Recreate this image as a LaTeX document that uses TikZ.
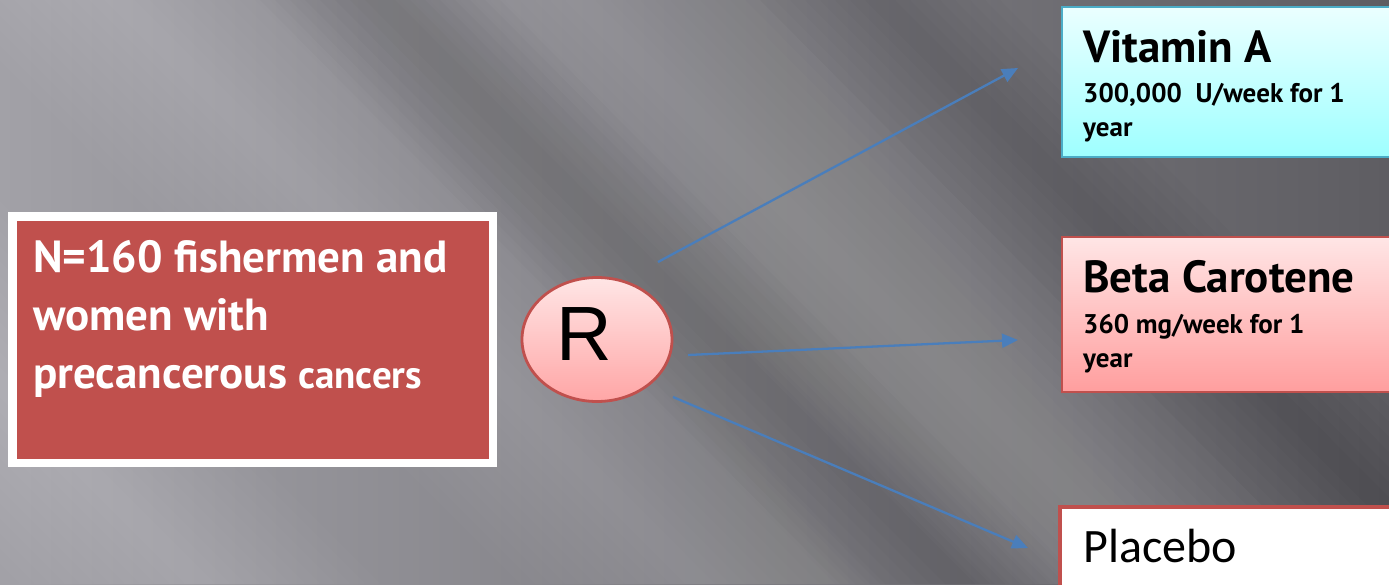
\documentclass[tikz,border=0pt]{standalone}
\usepackage{fontspec}
\setmainfont{PT Sans}
\newfontfamily\placebofont{Carlito}
\newfontfamily\rfont{Liberation Sans}
\usetikzlibrary{arrows.meta}
\definecolor{redbox}{HTML}{C0504D}
\definecolor{arrowblue}{HTML}{4A7EBB}
\definecolor{cyanborder}{HTML}{4BACC6}
\definecolor{bgleft}{HTML}{A2A1A7}
\definecolor{bgright}{HTML}{5E5D62}
\tikzset{
  conn/.style={draw=arrowblue, line width=2.3pt, -{Triangle[length=16pt,width=14pt]}},
  titletxt/.style={font=\bfseries\fontsize{45}{50}\selectfont, inner sep=0pt, anchor=base west},
  subtxt/.style={font=\bfseries\fontsize{27}{33.5}\selectfont, inner sep=0pt, anchor=base west, align=left},
  band/.style={white, opacity=0.016},
  darkband/.style={black, opacity=0.014},
}
\begin{document}
\begin{tikzpicture}[x=1pt,y=-1pt]
\useasboundingbox (0,0) rectangle (1389,584);
% background
\shade[left color=bgleft, right color=bgright] (0,0) rectangle (1389,584);
\foreach \w in {15,30,...,180} {
  \fill[band] (580-\w,0) -- (580+\w,0) -- (1160+\w,584) -- (1160-\w,584) -- cycle;
  \fill[band] (120-\w,0) -- (120+\w,0) -- (700+\w,584) -- (700-\w,584) -- cycle;
  \fill[band] (-380-\w,0) -- (-380+\w,0) -- (200+\w,584) -- (200-\w,584) -- cycle;
}
\foreach \w in {15,30,...,120} {
  \fill[darkband] (880-\w,0) -- (880+\w,0) -- (1460+\w,584) -- (1460-\w,584) -- cycle;
  \fill[darkband] (380-\w,0) -- (380+\w,0) -- (960+\w,584) -- (960-\w,584) -- cycle;
}
% left box
\fill[white] (8,212) rectangle (497,467);
\fill[redbox] (17,221) rectangle (489,459);
\node[inner sep=0pt, anchor=base west, align=left, text=white, font=\bfseries\fontsize{45}{58}\selectfont] (ntxt) at (33,388)
  {N=160 fishermen and\\women with\\precancerous {\fontsize{39}{58}\selectfont cancers}};
% R ellipse
\shade[top color=red!10!white, bottom color=red!35!white] (597,339.5) ellipse [x radius=75, y radius=62];
\draw[redbox, line width=2.8pt] (597,339.5) ellipse [x radius=75, y radius=62];
\node[inner sep=0pt, minimum width=150pt, minimum height=124pt] (R) at (597,339.5) {};
\node[font=\rfont\fontsize{77}{77}\selectfont, inner sep=0pt, anchor=base] (rtxt) at (584,360) {R};
% Vitamin A box
\shade[top color=cyan!8!white, bottom color=cyan!38!white] (1062,7) rectangle (1395,157);
\draw[cyanborder, line width=2.5pt] (1062,7) rectangle (1395,157);
\node[inner sep=0pt, anchor=north west, minimum width=333pt, minimum height=150pt] (vit) at (1062,7) {};
\node[titletxt] (vittitle) at (1083,62) {Vitamin A};
\node[subtxt] (vitsub) at (1083,136) {300,000\ \ U/week for 1\\year};
% Beta Carotene box
\shade[top color=red!10!white, bottom color=red!38!white] (1062,237) rectangle (1395,392);
\draw[redbox, line width=2.5pt] (1062,237) rectangle (1395,392);
\node[inner sep=0pt, anchor=north west, minimum width=333pt, minimum height=155pt] (beta) at (1062,237) {};
\node[titletxt] (betatitle) at (1083,292) {Beta Carotene};
\node[subtxt] (betasub) at (1083,367) {360 mg/week for 1\\year};
% Placebo box
\fill[white] (1060,507) rectangle (1395,590);
\draw[redbox, line width=4pt] (1060,507) rectangle (1395,590);
\node[inner sep=0pt, anchor=north west, minimum width=335pt, minimum height=83pt] (plac) at (1060,507) {};
\node[inner sep=0pt, anchor=base west, font=\placebofont\fontsize{48}{48}\selectfont] (plactxt) at (1083,562) {Placebo};
% connectors
\coordinate (s1) at (658,262);
\coordinate (s2) at (688,355);
\coordinate (s3) at (673,397);
\coordinate (a1) at (1018,68);
\coordinate (a2) at (1018,340);
\coordinate (a3) at (1028,548);
\draw[conn] (s1) -- (a1);
\draw[conn] (s2) -- (a2);
\draw[conn] (s3) -- (a3);
\end{tikzpicture}
\end{document}
